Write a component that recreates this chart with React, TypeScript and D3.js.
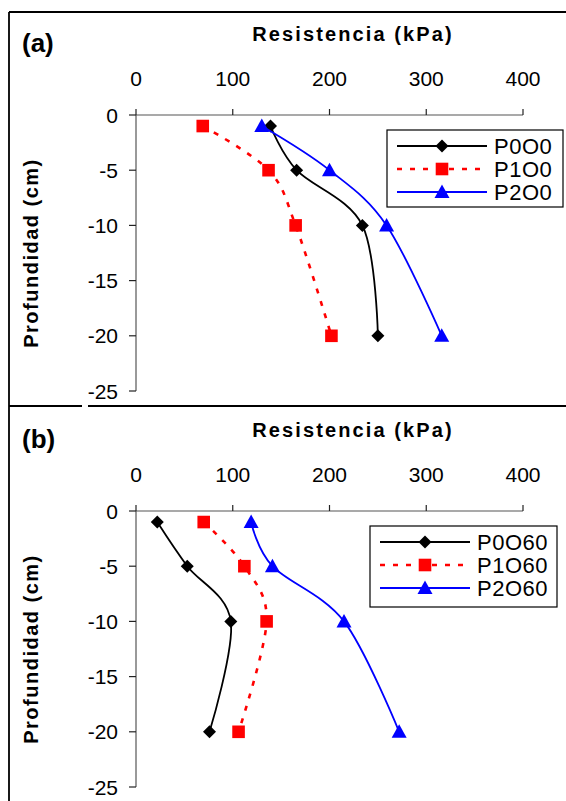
import React from 'react';
import * as d3 from 'd3';

// depth of each reading (cm)
const depths = [-1, -5, -10, -20];

// panel (a)
const p0o0 = [139, 166, 234, 250];
const p1o0 = [69, 137, 165, 202];
const p2o0 = [130, 200, 259, 316];

// panel (b)
const p0o60 = [22, 53, 98, 76];
const p1o60 = [70, 112, 135, 106];
const p2o60 = [119, 141, 215, 272];

const xTicks = [0, 100, 200, 300, 400];
const yTicks = [0, -5, -10, -15, -20, -25];

const panelA = [
  { name: 'P0O0', values: p0o0, kind: 'diamond' },
  { name: 'P1O0', values: p1o0, kind: 'square' },
  { name: 'P2O0', values: p2o0, kind: 'triangle' },
];
const panelB = [
  { name: 'P0O60', values: p0o60, kind: 'diamond' },
  { name: 'P1O60', values: p1o60, kind: 'square' },
  { name: 'P2O60', values: p2o60, kind: 'triangle' },
];

const FONT = "'Liberation Sans', Arial, sans-serif";

const styles = {
  diamond: { color: '#000000', dash: undefined, width: 1.8 },
  square: { color: '#ff0000', dash: '5 8', width: 2.6 },
  triangle: { color: '#0000ff', dash: undefined, width: 1.8 },
};

const markerPath = (kind) => {
  if (kind === 'diamond') return 'M0,-6.5L6.5,0L0,6.5L-6.5,0Z';
  if (kind === 'square') return 'M-6.3,-6.3H6.3V6.3H-6.3Z';
  return 'M0,-7.5L7.5,6L-7.5,6Z';
};

const x = d3.scaleLinear().domain([0, 400]).range([136, 523]);

const Panel = ({ top, label, series, legend }) => {
  const y = d3.scaleLinear().domain([0, -25]).range([top + 115, top + 391]);
  const line = d3
    .line()
    .x((d) => x(d[0]))
    .y((d) => y(d[1]))
    .curve(d3.curveCatmullRom.alpha(0));

  return (
    <g>
      <text x={22} y={top + 52} fontFamily={FONT} fontWeight="bold" fontSize={26}>
        {label}
      </text>
      <text
        x={353}
        y={top + 41}
        textAnchor="middle"
        fontFamily={FONT}
        fontWeight="bold"
        fontSize={20}
        letterSpacing={2.1}
      >
        Resistencia (kPa)
      </text>
      <text
        transform={`translate(38,${top + 253}) rotate(-90)`}
        textAnchor="middle"
        fontFamily={FONT}
        fontWeight="bold"
        fontSize={20}
        letterSpacing={1.5}
      >
        Profundidad (cm)
      </text>

      {/* x axis on top */}
      <line x1={x(0)} x2={x(400)} y1={y(0)} y2={y(0)} stroke="#555" strokeWidth={1.2} />
      {xTicks.map((t) => (
        <g key={t}>
          <line x1={x(t)} x2={x(t)} y1={y(0)} y2={y(0) - 6} stroke="#222" strokeWidth={1.2} />
          <text x={x(t)} y={top + 86} textAnchor="middle" fontFamily={FONT} fontSize={21}>
            {t}
          </text>
        </g>
      ))}

      {/* y axis */}
      <line x1={x(0)} x2={x(0)} y1={y(0)} y2={y(-25)} stroke="#555" strokeWidth={1.2} />
      {yTicks.map((t) => (
        <g key={t}>
          <line x1={x(0) - 7} x2={x(0)} y1={y(t)} y2={y(t)} stroke="#222" strokeWidth={1.2} />
          <text
            x={118}
            y={y(t)}
            dy="0.36em"
            textAnchor="end"
            fontFamily={FONT}
            fontSize={21}
          >
            {t}
          </text>
        </g>
      ))}

      {series.map((s) => {
        const st = styles[s.kind];
        const pts = s.values.map((v, i) => [v, depths[i]]);
        return (
          <g key={s.name}>
            <path
              d={line(pts)}
              fill="none"
              stroke={st.color}
              strokeWidth={st.width}
              strokeDasharray={st.dash}
            />
            {pts.map((p, i) => (
              <path
                key={i}
                d={markerPath(s.kind)}
                transform={`translate(${x(p[0])},${y(p[1])})`}
                fill={st.color}
              />
            ))}
          </g>
        );
      })}

      {/* legend */}
      <rect
        x={legend.x}
        y={top + legend.y}
        width={legend.w}
        height={legend.h}
        fill="white"
        stroke="#000"
        strokeWidth={1.2}
      />
      {series.map((s, i) => {
        const st = styles[s.kind];
        const ry = top + legend.y + 16 + i * 23;
        return (
          <g key={s.name}>
            <line
              x1={legend.x + 10}
              x2={legend.x + 100}
              y1={ry}
              y2={ry}
              stroke={st.color}
              strokeWidth={st.width}
              strokeDasharray={st.dash}
            />
            <path d={markerPath(s.kind)} transform={`translate(${legend.x + 55},${ry})`} fill={st.color} />
            <text
              x={legend.x + 107}
              y={ry}
              dy="0.36em"
              fontFamily={FONT}
              fontSize={22}
              letterSpacing={0.5}
            >
              {s.name}
            </text>
          </g>
        );
      })}
    </g>
  );
};

export default function App() {
  return (
    <svg
      width={566}
      height={801}
      style={{ position: 'absolute', left: 0, top: 0, background: '#fff' }}
    >
      <rect x={0} y={0} width={566} height={801} fill="#fff" />
      <Panel top={0} label="(a)" series={panelA} legend={{ x: 387, y: 130, w: 176, h: 77 }} />
      <Panel top={396} label="(b)" series={panelB} legend={{ x: 370, y: 130, w: 187, h: 81 }} />
      {/* frame */}
      <line x1={9} x2={566} y1={12} y2={12} stroke="#000" strokeWidth={1.8} />
      <line x1={9} x2={9} y1={12} y2={801} stroke="#000" strokeWidth={1.8} />
      <line x1={9} x2={82} y1={406} y2={406} stroke="#000" strokeWidth={1.8} />
      <line x1={88} x2={566} y1={406} y2={406} stroke="#000" strokeWidth={1.8} />
    </svg>
  );
}
